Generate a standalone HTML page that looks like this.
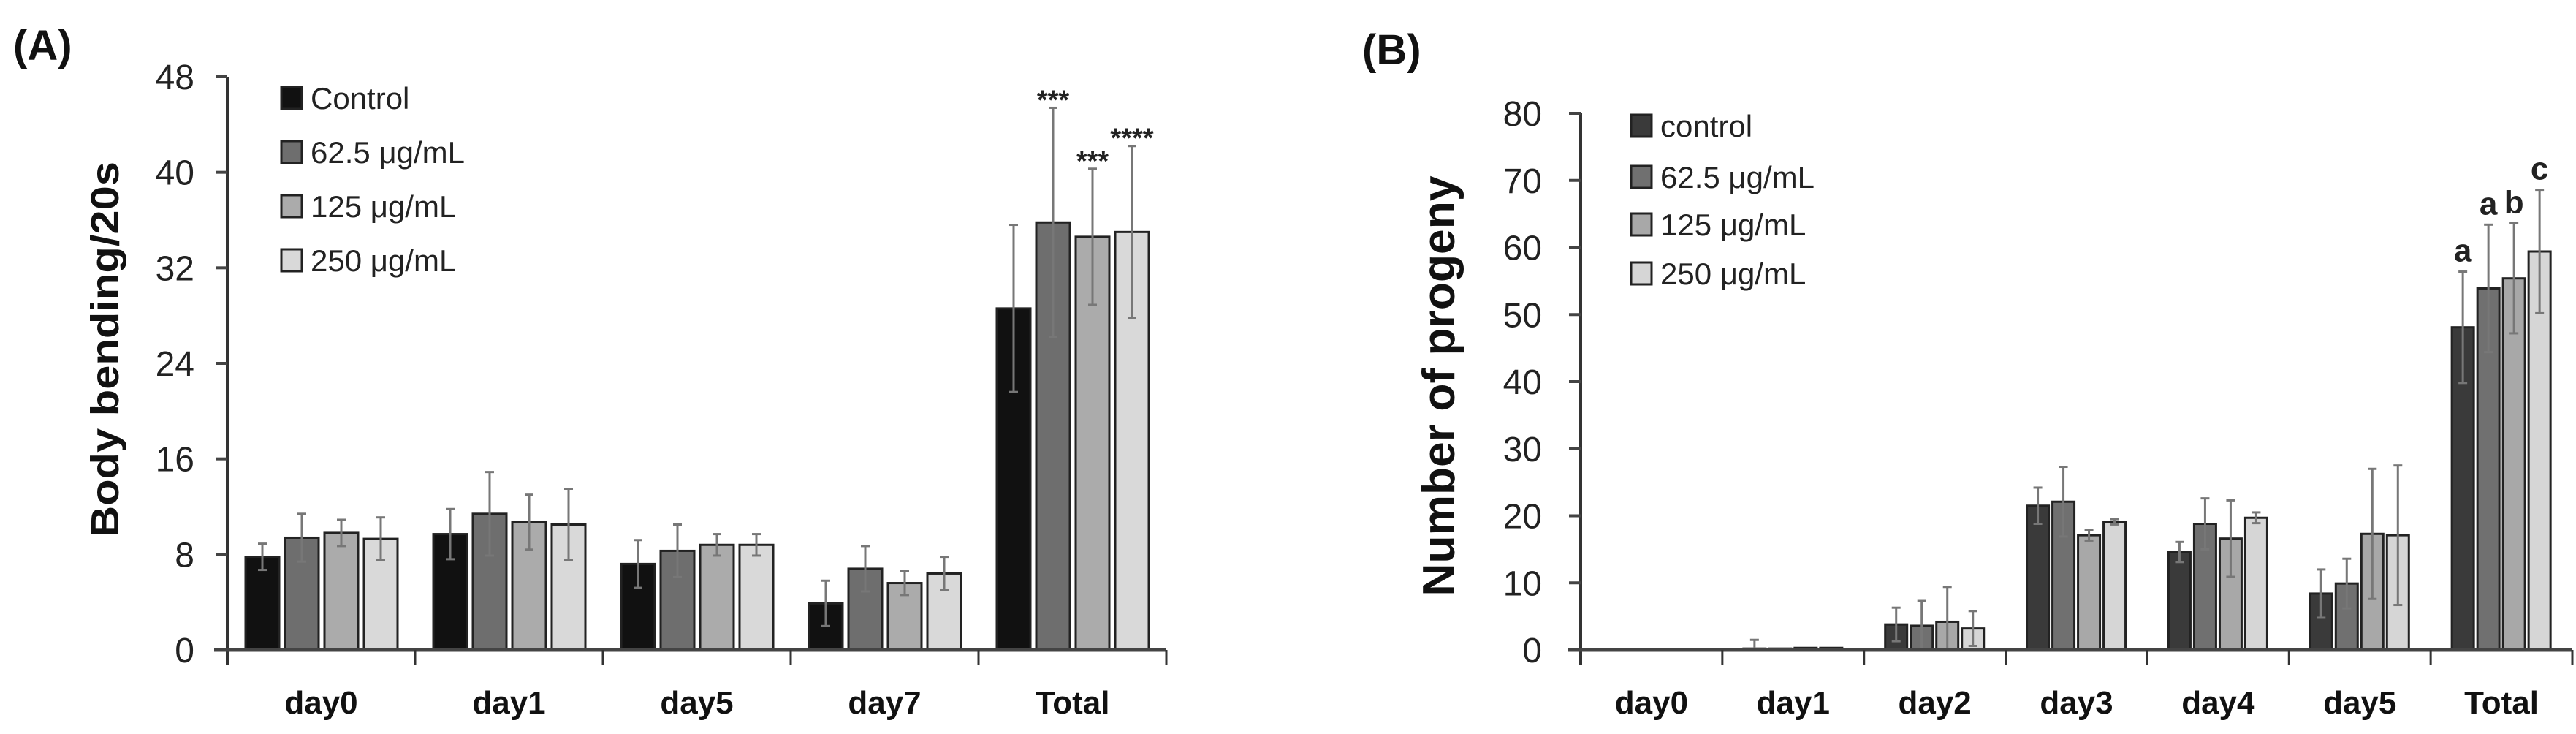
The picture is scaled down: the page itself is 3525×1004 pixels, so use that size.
<!DOCTYPE html>
<html><head><meta charset="utf-8"><style>
html,body{margin:0;padding:0;background:#fff;}
svg{display:block;font-family:"Liberation Sans",sans-serif;}
</style></head><body>
<svg id="fig" width="3525" height="1004" viewBox="0 0 3525 1004"></svg>
<script>
// ---- Panel A data ----
const catsA = ["day0","day1","day5","day7","Total"];
const seriesNamesA = ["Control","62.5 μg/mL","125 μg/mL","250 μg/mL"];
const ctrlA = [7.8, 9.7, 7.2, 3.9, 28.6];
const d62A = [9.4, 11.4, 8.3, 6.8, 35.8];
const d125A = [9.8, 10.7, 8.8, 5.6, 34.6];
const d250A = [9.3, 10.5, 8.8, 6.4, 35.0];
const errCtrlA = [1.1, 2.1, 2.0, 1.9, 7.0];
const err62A = [2.0, 3.5, 2.2, 1.9, 9.6];
const err125A = [1.1, 2.3, 0.9, 1.0, 5.7];
const err250A = [1.8, 3.0, 0.9, 1.4, 7.2];
const ticksA = [0, 8, 16, 24, 32, 40, 48];
const annotA = [["","","","",""],["","","","","***"],["","","","","***"],["","","","","****"]];
// ---- Panel B data ----
const catsB = ["day0","day1","day2","day3","day4","day5","Total"];
const seriesNamesB = ["control","62.5 μg/mL","125 μg/mL","250 μg/mL"];
const ctrlB = [0, 0.2, 3.8, 21.5, 14.6, 8.4, 48.1];
const d62B = [0, 0.2, 3.6, 22.1, 18.8, 9.9, 53.9];
const d125B = [0, 0.3, 4.2, 17.1, 16.6, 17.3, 55.4];
const d250B = [0, 0.3, 3.2, 19.1, 19.7, 17.1, 59.4];
const errCtrlB = [0, 1.3, 2.5, 2.7, 1.5, 3.6, 8.3];
const err62B = [0, 0, 3.7, 5.2, 3.8, 3.7, 9.5];
const err125B = [0, 0, 5.2, 0.8, 5.7, 9.7, 8.2];
const err250B = [0, 0, 2.6, 0.4, 0.8, 10.4, 9.2];
const ticksB = [0, 10, 20, 30, 40, 50, 60, 70, 80];
const annotB = [["","","","","","","a"],["","","","","","","a"],["","","","","","","b"],["","","","","","","c"]];

const NS = "http://www.w3.org/2000/svg";
const svg = document.getElementById("fig");
function mk(tag, attrs, parent, text){
  const e = document.createElementNS(NS, tag);
  for (const k in attrs) e.setAttribute(k, attrs[k]);
  if (text !== undefined) e.textContent = text;
  (parent || svg).appendChild(e);
  return e;
}

function drawPanel(p){
  const g = mk("g", {});
  
  
  const y = v => p.y0 - (v - p.ticks[0]) / (p.ticks[p.ticks.length-1] - p.ticks[0]) * (p.y0 - p.yTop);
  const n = p.cats.length;
  const cw = (p.xEnd - p.x0) / n;
  p.series.forEach((vals, s) => {
    vals.forEach((v, i) => {
      const bx = p.x0 + i*cw + p.pad + s*(p.bw + p.gap);
      if (v > 0) {
        const r = mk("rect", {x: bx, y: y(v), width: p.bw, height: y(0) - y(v), fill: p.colors[s], stroke: "#222", "stroke-width": 3}, g);
        
        
      }
      const e = p.errs[s][i];
      const cx = bx + p.bw/2;
      if (e > 0) {
        const eb = mk("g", {}, g);
        
        
        mk("line", {x1: cx, x2: cx, y1: y(Math.max(0, v - e)), y2: y(v + e), stroke: "#777", "stroke-width": 3}, eb);
        mk("line", {x1: cx-6, x2: cx+6, y1: y(v + e), y2: y(v + e), stroke: "#777", "stroke-width": 3}, eb);
        mk("line", {x1: cx-6, x2: cx+6, y1: y(Math.max(0, v - e)), y2: y(Math.max(0, v - e)), stroke: "#777", "stroke-width": 3}, eb);
      }
      const a = p.annot[s][i];
      if (a) {
        const t = mk("text", {x: cx, y: y(v + e) - p.annotOff, "text-anchor": "middle", "font-size": p.annotSize, "font-weight": "bold", fill: "#222"}, g, a);
        
        
      }
    });
  });
  const ya = mk("line", {x1: p.x0, x2: p.x0, y1: y(p.ticks[p.ticks.length-1]), y2: y(0) + 20, stroke: "#333", "stroke-width": 4}, g);
  
  
  const xa = mk("line", {x1: p.x0 - 18, x2: p.xEnd, y1: y(0), y2: y(0), stroke: "#444", "stroke-width": 5}, g);
  
  
  p.ticks.forEach(t => {
    mk("line", {x1: p.x0 - 16, x2: p.x0, y1: y(t), y2: y(t), stroke: "#444", "stroke-width": 4}, g);
    const tl = mk("text", {x: p.tickRight, y: y(t) + 17, "text-anchor": "end", "font-size": 48, fill: "#222"}, g, String(t));
    
    
  });
  for (let i = 1; i <= n; i++) {
    mk("line", {x1: p.x0 + i*cw, x2: p.x0 + i*cw, y1: y(0), y2: y(0) + 20, stroke: "#333", "stroke-width": 3}, g);
  }
  p.cats.forEach((c, i) => {
    const t = mk("text", {x: p.x0 + (i+0.5)*cw, y: p.catY, "text-anchor": "middle", "font-size": 44, "font-weight": "bold", fill: "#111"}, g, c);
    
    
  });
  const yt = mk("text", {x: 0, y: 0, transform: `translate(${p.titleX},${p.titleY}) rotate(-90)`, "text-anchor": "middle", "font-size": p.titleSize, "font-weight": "bold", fill: "#111", textLength: p.titleLen, lengthAdjust: "spacingAndGlyphs"}, g, p.title);
  
  
  p.names.forEach((nm, s) => {
    const le = mk("g", {}, g);
    
    
    const ly = p.legY[s];
    mk("rect", {x: p.legX, y: ly - 15, width: 28, height: 30, fill: p.colors[s], stroke: "#222", "stroke-width": 3}, le);
    mk("text", {x: p.legX + 40, y: ly + 15, "font-size": 42, fill: "#222"}, le, nm);
  });
  const pl = mk("text", {x: p.labX, y: p.labY, "font-size": 58, "font-weight": "bold", fill: "#111"}, g, p.label);
  
  
}

drawPanel({
  name: "chart-a", cats: catsA, series: [ctrlA, d62A, d125A, d250A],
  errs: [errCtrlA, err62A, err125A, err250A], annot: annotA, ticks: ticksA,
  names: seriesNamesA, colors: ["#111111", "#6e6e6e", "#ababab", "#d9d9d9"],
  x0: 311, xEnd: 1596, y0: 889, yTop: 105, pad: 25, bw: 46, gap: 8,
  tickRight: 266,
  catY: 976, title: "Body bending/20s", titleX: 162, titleY: 478, titleSize: 54, titleLen: 514,
  legX: 385, legY: [134, 208, 282, 356], label: "(A)", labX: 18, labY: 82,
  annotOff: -2, annotSize: 38
});
drawPanel({
  name: "chart-b", cats: catsB, series: [ctrlB, d62B, d125B, d250B],
  errs: [errCtrlB, err62B, err125B, err250B], annot: annotB, ticks: ticksB,
  names: seriesNamesB, colors: ["#3a3a3a", "#707070", "#a8a8a8", "#d6d6d6"],
  x0: 2163, xEnd: 3520, y0: 889, yTop: 155, pad: 29, bw: 30, gap: 5,
  tickRight: 2110,
  catY: 976, title: "Number of progeny", titleX: 1990, titleY: 528, titleSize: 62, titleLen: 575,
  legX: 2232, legY: [172, 242, 307, 374], label: "(B)", labX: 1864, labY: 88,
  annotOff: 14, annotSize: 44
});
</script>
</body></html>
